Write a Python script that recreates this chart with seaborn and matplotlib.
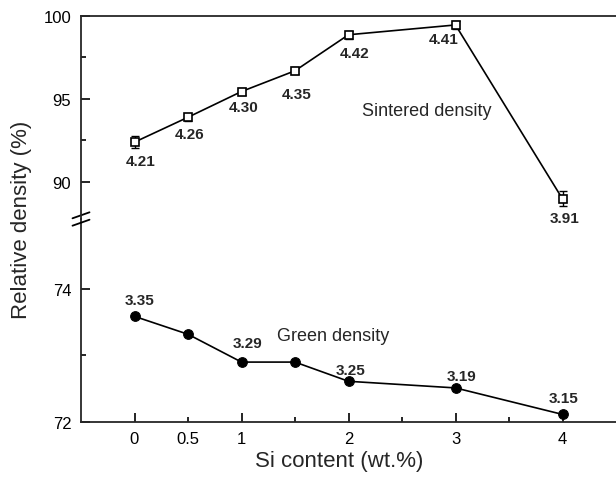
import numpy as np
import pandas as pd
import matplotlib
matplotlib.use("Agg")
import matplotlib.pyplot as plt
from matplotlib.lines import Line2D
import seaborn as sns

# data
si_content = [0, 0.5, 1, 1.5, 2, 3, 4]
sintered = [92.4, 93.9, 95.45, 96.7, 98.87, 99.46, 88.98]
sintered_err = [0.35, 0.2, 0.2, 0.2, 0.25, 0.25, 0.45]
sintered_labels = ["4.21", "4.26", "4.30", "4.35", "4.42", "4.41", "3.91"]
green = [73.59, 73.32, 72.90, 72.90, 72.61, 72.51, 72.11]
green_labels = ["3.35", "", "3.29", "", "3.25", "3.19", "3.15"]

# label offsets in pixels (dx, dy)
sint_off = [(6, -19), (2, -17), (2, -15), (2, -23), (6, -18), (-12, -14), (2, -19)]
green_off = [(5, 16), (0, 0), (6, 19), (0, 0), (2, 11), (6, 12), (1, 16)]

df_s = pd.DataFrame({"x": si_content, "y": sintered})
df_g = pd.DataFrame({"x": si_content, "y": green})

sns.set_theme(style="ticks")
plt.rcParams["font.family"] = ["Liberation Sans", "DejaVu Sans"]
plt.rcParams["axes.linewidth"] = 1.3

W, H = 616, 489
fig = plt.figure(figsize=(W / 100, H / 100), dpi=100)
left = 81 / W
width = 535 / W
ax_bot = fig.add_axes([left, 1 - 422.7 / H, width, 202.7 / H])
ax_top = fig.add_axes([left, 1 - 220 / H, width, 203 / H])
ax_top.patch.set_visible(False)
ax_top.set_zorder(2)

# sintered density
sns.lineplot(data=df_s, x="x", y="y", ax=ax_top, color="black", lw=1.2,
             marker="s", markersize=5.5, markerfacecolor="white",
             markeredgecolor="black", markeredgewidth=1.2, zorder=3)
ax_top.errorbar(si_content, sintered, yerr=sintered_err, fmt="none",
                ecolor="black", elinewidth=1.0, capsize=3, capthick=1.0, zorder=2)

# green density
sns.lineplot(data=df_g, x="x", y="y", ax=ax_bot, color="black", lw=1.2,
             marker="o", markersize=7, markerfacecolor="black",
             markeredgecolor="black", zorder=3)

for x, y, lab, (dx, dy) in zip(si_content, sintered, sintered_labels, sint_off):
    ax_top.annotate(lab, (x, y), xytext=(dx, dy), textcoords="offset pixels",
                    ha="center", va="center", fontsize=11, fontweight="bold",
                    annotation_clip=False)
for x, y, lab, (dx, dy) in zip(si_content, green, green_labels, green_off):
    if lab:
        ax_bot.annotate(lab, (x, y), xytext=(dx, dy), textcoords="offset pixels",
                        ha="center", va="center", fontsize=11, fontweight="bold")

ax_top.text(2.13, 94.3, "Sintered density", fontsize=13, ha="left", va="center")
ax_bot.text(1.336, 73.30, "Green density", fontsize=13, ha="left", va="center")

for ax in (ax_top, ax_bot):
    ax.set_xlim(-0.5, 4.5)
    ax.set_xlabel("")
    ax.set_ylabel("")
    ax.spines["right"].set_visible(False)
    ax.tick_params(axis="both", which="major", direction="in", length=6.5,
                   width=1.2, labelsize=12, pad=7, colors="black")
    ax.tick_params(axis="both", which="minor", direction="in", length=3.5,
                   width=1.2, labelsize=12, pad=7, colors="black")

ax_top.set_ylim(87.77, 100)
ax_top.set_yticks([90, 95, 100])
ax_top.set_yticks([92.5, 97.5], minor=True)
ax_top.spines["bottom"].set_visible(False)
ax_top.set_xticks([])
ax_top.set_xticks([], minor=True)

ax_bot.set_ylim(72, 75.06)
ax_bot.set_yticks([72, 74])
ax_bot.set_yticks([73], minor=True)
ax_bot.spines["top"].set_visible(False)
ax_bot.set_xticks([0, 1, 2, 3, 4])
ax_bot.set_xticklabels(["0", "1", "2", "3", "4"])
ax_bot.set_xticks([0.5, 1.5, 2.5, 3.5], minor=True)
ax_bot.set_xticklabels(["0.5", "", "", ""], minor=True)

# axis break marks on the left spine
for yc in (216.3, 223.7):
    fig.add_artist(Line2D([72.5 / W, 89.5 / W], [1 - (yc + 3) / H, 1 - (yc - 3) / H],
                          color="black", lw=1.3))

fig.text(339.5 / W, 1 - 462 / H, "Si content (wt.%)", fontsize=16,
         ha="center", va="center")
fig.text(22 / W, 1 - 220 / H, "Relative density (%)", fontsize=16,
         ha="center", va="center", rotation=90)

fig.savefig("out.png", dpi=100)
